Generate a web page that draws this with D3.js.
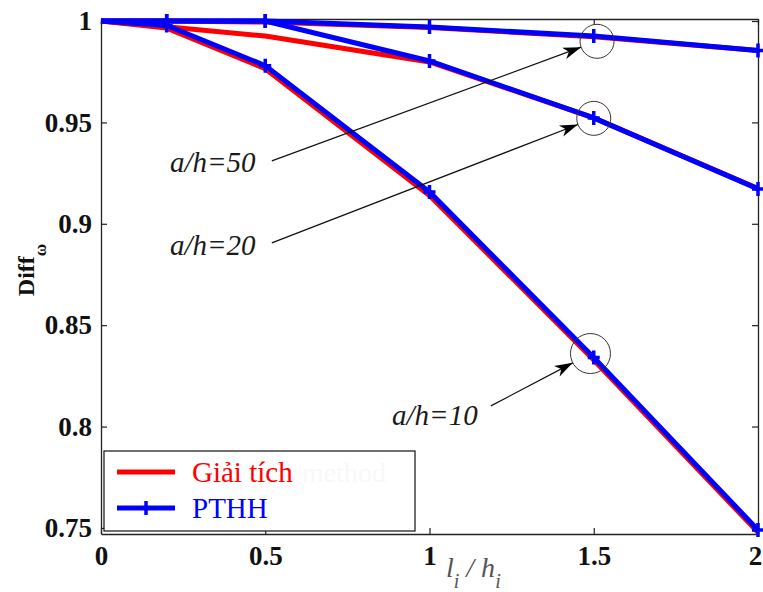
<!DOCTYPE html>
<html>
<head>
<meta charset="utf-8">
<script src="https://cdn.jsdelivr.net/npm/d3@7"></script>
<style>
    body { margin: 0; background: #fff; }
    svg { display: block; }
</style>
</head>
<body>
<svg id="chart"></svg>
<script>
// x values (l_i / h_i)
const xVals = [0, 0.2, 0.5, 1, 1.5, 2];

// Giải tích (analytical)
const giaiTich10 = [1, 0.9965, 0.9765, 0.914, 0.8328, 0.7478];
const giaiTich20 = [1, 0.9972, 0.9926, 0.9798, 0.9522, 0.9174];
const giaiTich50 = [1, 1, 0.9995, 0.9968, 0.9922, 0.9855];

// PTHH (FEM)
const pthh10 = [1, 0.9978, 0.978, 0.9157, 0.834, 0.749];
const pthh20 = [1, 1, 1, 0.9803, 0.9522, 0.9172];
const pthh50 = [1, 1, 1, 0.997, 0.9926, 0.9855];

const xTicks = [0, 0.5, 1, 1.5, 2];
const yTicks = [0.75, 0.8, 0.85, 0.9, 0.95, 1];
const legendNames = ['Giải tích', 'PTHH'];

// annotations: label, label position, circle around the x=1.5 point
const annotText = ['a/h=50', 'a/h=20', 'a/h=10'];
const annotLabelX = [0.21, 0.21, 0.886];
const annotLabelY = [0.9256, 0.8846, 0.8008];
const annotFromX = [0.52, 0.52, 1.187];
const annotFromY = [0.931, 0.8906, 0.8102];
const annotCircleX = [1.51, 1.5, 1.49];
const annotCircleY = [0.990, 0.952, 0.836];
const annotRadius = [17, 17, 20];

const width = 763, height = 592;
const margin = { left: 101, right: 5, top: 19, bottom: 58 };

const svg = d3.select('#chart')
    .attr('width', width)
    .attr('height', height);

const x = d3.scaleLinear()
    .domain([0, 2])
    .range([margin.left, width - margin.right]);

const y = d3.scaleLinear()
    .domain([0.747, 1.001])
    .range([height - margin.bottom, margin.top]);

const serif = '"Liberation Serif", "Times New Roman", serif';
const axisColor = '#222';

// axes (ticks inside, box on all four sides)
const gLeft = svg.append('g')
    .attr('transform', 'translate(' + margin.left + ',0)')
    .call(d3.axisLeft(y).tickValues(yTicks).tickSizeInner(-6).tickSizeOuter(0)
        .tickPadding(9).tickFormat(d => String(d)));
const gBottom = svg.append('g')
    .attr('transform', 'translate(0,' + (height - margin.bottom) + ')')
    .call(d3.axisBottom(x).tickValues(xTicks).tickSizeInner(-6).tickSizeOuter(0)
        .tickPadding(11.5).tickFormat(d => String(d)));
const gTop = svg.append('g')
    .attr('transform', 'translate(0,' + margin.top + ')')
    .call(d3.axisTop(x).tickValues(xTicks).tickSizeInner(-6).tickSizeOuter(0).tickFormat(''));
const gRight = svg.append('g')
    .attr('transform', 'translate(' + (width - margin.right) + ',0)')
    .call(d3.axisRight(y).tickValues(yTicks).tickSizeInner(-6).tickSizeOuter(0).tickFormat(''));

[gLeft, gBottom, gTop, gRight].forEach(function (g) {
    g.select('.domain').attr('stroke', axisColor).attr('stroke-width', 1.3);
    g.selectAll('.tick line').attr('stroke', axisColor).attr('stroke-width', 1.2);
    g.selectAll('.tick text')
        .attr('fill', '#111')
        .style('font-family', serif)
        .style('font-weight', 'bold')
        .style('font-size', '27px');
});
// keep the last x label inside the window
gBottom.selectAll('.tick text').filter(d => d === 2).attr('dx', -3);

// lines
const line = d3.line()
    .x((d, i) => x(xVals[i]))
    .y(d => y(d));

const redSeries = [giaiTich10, giaiTich20, giaiTich50];
const blueSeries = [pthh10, pthh20, pthh50];

svg.append('g').selectAll('path')
    .data(redSeries)
    .enter()
    .append('path')
    .attr('d', line)
    .attr('fill', 'none')
    .attr('stroke', '#ff0000')
    .attr('stroke-width', 5);

svg.append('g').selectAll('path')
    .data(blueSeries)
    .enter()
    .append('path')
    .attr('d', line)
    .attr('fill', 'none')
    .attr('stroke', '#0000ff')
    .attr('stroke-width', 5);

// '+' markers (the one at the origin corner is hidden in the original)
const plus = 'M-6,0H6M0,-7V7';
svg.append('g').selectAll('g')
    .data(blueSeries)
    .enter()
    .append('g')
    .selectAll('path')
    .data(d => d.map((v, i) => [xVals[i], v]).filter(p => p[0] > 0))
    .enter()
    .append('path')
    .attr('d', plus)
    .attr('transform', d => 'translate(' + x(d[0]) + ',' + y(d[1]) + ')')
    .attr('stroke', '#0000ff')
    .attr('stroke-width', 3.5);

// arrowhead
svg.append('defs').append('marker')
    .attr('id', 'arrow')
    .attr('markerUnits', 'userSpaceOnUse')
    .attr('viewBox', '-20 -8 22 16')
    .attr('refX', 0)
    .attr('refY', 0)
    .attr('markerWidth', 22)
    .attr('markerHeight', 16)
    .attr('orient', 'auto')
    .append('path')
    .attr('d', 'M0,0L-18,-6L-13,0L-18,6Z')
    .attr('fill', '#000');

// annotations
const gAnn = svg.append('g');
annotText.forEach(function (t, i) {
    const cx = x(annotCircleX[i]), cy = y(annotCircleY[i]);
    const fx = x(annotFromX[i]), fy = y(annotFromY[i]);
    const dx = cx - fx, dy = cy - fy;
    const len = Math.sqrt(dx * dx + dy * dy);
    const r = annotRadius[i];

    gAnn.append('circle')
        .attr('cx', cx)
        .attr('cy', cy)
        .attr('r', r)
        .attr('fill', 'none')
        .attr('stroke', '#333')
        .attr('stroke-width', 1);

    gAnn.append('line')
        .attr('x1', fx)
        .attr('y1', fy)
        .attr('x2', cx - r * dx / len)
        .attr('y2', cy - r * dy / len)
        .attr('stroke', '#111')
        .attr('stroke-width', 1.2)
        .attr('marker-end', 'url(#arrow)');

    gAnn.append('text')
        .attr('x', x(annotLabelX[i]))
        .attr('y', y(annotLabelY[i]))
        .attr('fill', '#1a1a1a')
        .style('font-family', serif)
        .style('font-style', 'italic')
        .style('font-size', '29px')
        .text(t);
});

// axis labels
const xl = svg.append('text')
    .attr('x', 446)
    .attr('y', 577)
    .attr('fill', '#555')
    .style('font-family', serif)
    .style('font-style', 'italic')
    .style('font-size', '28px');
xl.append('tspan').text('l');
xl.append('tspan').attr('dy', 11).style('font-size', '20px').text('i');
xl.append('tspan').attr('dy', -11).text(' / h');
xl.append('tspan').attr('dy', 11).style('font-size', '20px').text('i');

const yl = svg.append('text')
    .attr('transform', 'translate(34,270) rotate(-90)')
    .attr('text-anchor', 'middle')
    .attr('fill', '#111')
    .style('font-family', serif)
    .style('font-weight', 'bold')
    .style('font-size', '24px');
yl.append('tspan').text('Diff');
yl.append('tspan').attr('dy', 12).style('font-size', '17px').text('ω');

// legend
const lg = svg.append('g');
lg.append('rect')
    .attr('x', 104)
    .attr('y', 451)
    .attr('width', 311)
    .attr('height', 80)
    .attr('fill', '#fff')
    .attr('stroke', '#222')
    .attr('stroke-width', 1.3);

lg.append('text')
    .attr('x', 302)
    .attr('y', 482)
    .attr('fill', '#f8f8f8')
    .style('font-family', serif)
    .style('font-size', '28px')
    .text('method');

const legendColors = ['#ff0000', '#0000ff'];
const legendRows = [472, 508];
legendNames.forEach(function (name, i) {
    lg.append('line')
        .attr('x1', 117)
        .attr('x2', 175)
        .attr('y1', legendRows[i])
        .attr('y2', legendRows[i])
        .attr('stroke', legendColors[i])
        .attr('stroke-width', 5);
    if (i === 1) {
        lg.append('path')
            .attr('d', plus)
            .attr('transform', 'translate(146,' + legendRows[i] + ')')
            .attr('stroke', legendColors[i])
            .attr('stroke-width', 3.5);
    }
    lg.append('text')
        .attr('x', 192)
        .attr('y', legendRows[i] + 10)
        .attr('fill', legendColors[i])
        .style('font-family', serif)
        .style('font-size', '29px')
        .text(name);
});
</script>
</body>
</html>
